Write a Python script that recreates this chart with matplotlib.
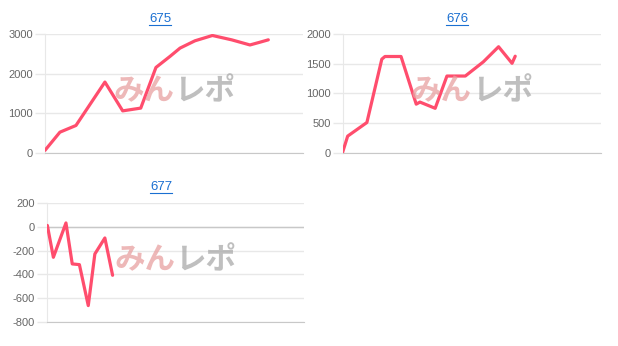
import matplotlib
matplotlib.use('Agg')
import matplotlib.pyplot as plt
from matplotlib.lines import Line2D

plt.rcParams['font.family'] = ['Liberation Sans', 'Noto Sans CJK JP', 'DejaVu Sans']
plt.rcParams['axes.unicode_minus'] = False

# 台番号ごとの差枚推移 (ゲーム数, 差枚)
titles = ['675', '676', '677']

games_675 = [0, 520, 1080, 2090, 2710, 3340, 3870, 4360, 4710, 5230, 5840, 6510, 7150, 7500, 7790]
diff_675 = [60, 520, 690, 1790, 1060, 1130, 2160, 2440, 2650, 2835, 2970, 2860, 2730, 2800, 2860]

games_676 = [0, 180, 850, 1370, 1480, 2040, 2570, 2700, 3230, 3640, 4280, 4910, 5440, 5910, 6020]
diff_676 = [0, 280, 510, 1580, 1625, 1625, 820, 855, 750, 1295, 1295, 1535, 1790, 1510, 1630]

games_677 = [30, 240, 680, 900, 1150, 1460, 1690, 2040, 2310]
diff_677 = [13, -256, 34, -312, -318, -664, -228, -93, -408]

yticks_675 = [0, 1000, 2000, 3000]
yticks_676 = [0, 500, 1000, 1500, 2000]
yticks_677 = [-800, -600, -400, -200, 0, 200]

W, H = 618, 346
fig = plt.figure(figsize=(W / 100, H / 100), dpi=100)

line_color = '#ff4d6d'


def px_axes(left, right, top, bottom):
    return fig.add_axes([left / W, 1 - bottom / H, (right - left) / W, (bottom - top) / H])


ax1 = px_axes(45, 303, 34.3, 152.7)
ax2 = px_axes(342.5, 600.7, 34.3, 152.7)
ax3 = px_axes(46.5, 304, 203.3, 321.7)

panels = [
    (ax1, games_675, diff_675, yticks_675),
    (ax2, games_676, diff_676, yticks_676),
    (ax3, games_677, diff_677, yticks_677),
]

for ax, g, d, yt in panels:
    ax.plot(g, d, color=line_color, lw=2.3, solid_joinstyle='round',
            solid_capstyle='round', zorder=3)
    ax.set_xlim(0, 9000)
    ax.set_ylim(yt[0], yt[-1])
    ax.set_yticks(yt)
    ax.set_xticks([])
    ax.grid(axis='y', color='#e8e8e8', lw=1)
    ax.set_axisbelow(True)
    for s in ['top', 'right']:
        ax.spines[s].set_visible(False)
    ax.spines['left'].set_color('#e8e8e8')
    ax.spines['bottom'].set_color('#c8c8c8')
    ax.tick_params(axis='y', length=7, width=1, color='#e8e8e8', pad=1.5,
                   labelsize=8, labelcolor='#666666')
    if yt[0] < 0:
        ax.axhline(0, color='#c8c8c8', lw=1, zorder=1)
    # ウォーターマーク
    ax.text(0.50, 0.52, 'みん', transform=ax.transAxes, ha='right', va='center',
            fontsize=22, fontweight='bold', color='#e8a0a0', alpha=0.75,
            family=['Noto Sans CJK JP'], zorder=4)
    ax.text(0.50, 0.52, 'レポ', transform=ax.transAxes, ha='left', va='center',
            fontsize=22, fontweight='bold', color='#aaaaaa', alpha=0.75,
            family=['Noto Sans CJK JP'], zorder=4)

title_pos = [(160, 19), (457, 19), (161, 187)]
title_texts = []
for t, (x, y) in zip(titles, title_pos):
    title_texts.append(fig.text(x / W, 1 - y / H, t, ha='center', va='center',
                                fontsize=9.5, color='#1a6fd1'))

# タイトルの下線
fig.canvas.draw()
r = fig.canvas.get_renderer()
for tt in title_texts:
    bb = tt.get_window_extent(r)
    y = (bb.y0 + 0.5) / H
    fig.add_artist(Line2D([bb.x0 / W, bb.x1 / W], [y, y], color='#1a6fd1', lw=0.8))

fig.savefig('out.png', dpi=100)
